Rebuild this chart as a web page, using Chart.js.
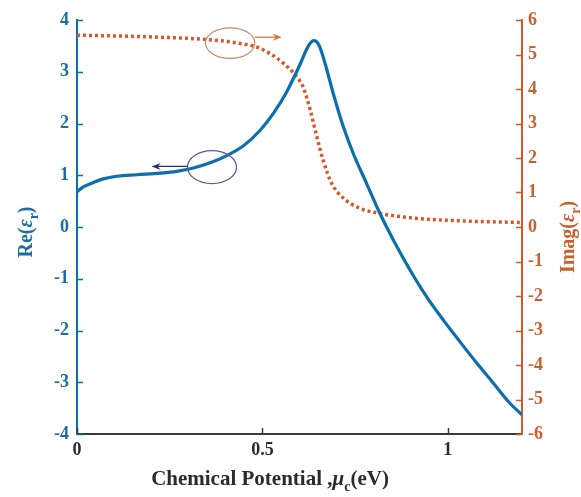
<!DOCTYPE html>
<html>
<head>
<meta charset="utf-8">
<script src="https://cdn.jsdelivr.net/npm/chart.js@4/dist/chart.umd.min.js"></script>
<style>
  html, body { margin: 0; padding: 0; background: #fff; }
  #wrap { width: 581px; height: 497px; }
</style>
</head>
<body>
<div id="wrap"><canvas id="c" width="581" height="497"></canvas></div>
<script>
// Real part of the relative permittivity vs chemical potential (left axis)
const reMu = [0, 0.017, 0.044, 0.071, 0.107, 0.161, 0.224, 0.269, 0.314, 0.359, 0.404, 0.449, 0.494,
  0.53, 0.566, 0.602, 0.624, 0.639, 0.652, 0.669, 0.691, 0.718, 0.745, 0.781, 0.817, 0.853,
  0.898, 0.943, 0.988, 1.033, 1.078, 1.123, 1.168, 1.2];
const reEps = [0.68, 0.775, 0.86, 0.93, 0.98, 1.01, 1.04, 1.075, 1.14, 1.24, 1.38, 1.57, 1.87,
  2.20, 2.62, 3.15, 3.50, 3.60, 3.52, 3.16, 2.58, 1.94, 1.42, 0.84, 0.26, -0.25,
  -0.83, -1.35, -1.80, -2.22, -2.63, -3.02, -3.41, -3.63];

// Imaginary part of the relative permittivity (right axis)
const imMu = [0, 0.134, 0.224, 0.314, 0.386, 0.44, 0.486, 0.52, 0.556, 0.588, 0.61, 0.628, 0.646,
  0.664, 0.687, 0.718, 0.763, 0.808, 0.898, 1.006, 1.2];
const imEps = [5.56, 5.53, 5.50, 5.46, 5.40, 5.32, 5.21, 5.03, 4.75, 4.41, 4.05, 3.43, 2.65,
  1.93, 1.26, 0.84, 0.54, 0.41, 0.27, 0.19, 0.13];

// Tick values
const xTicks = [0, 0.5, 1];
const leftTicks = [-4, -3, -2, -1, 0, 1, 2, 3, 4];
const rightTicks = [-6, -5, -4, -3, -2, -1, 0, 1, 2, 3, 4, 5, 6];

const BLUE = '#0b6fae';
const BLUE_TXT = '#1b6c9f';
const ORANGE = '#d5582a';
const ORANGE_TXT = '#c8602f';
const DARK = '#3a3a3a';
const SERIF = '"Liberation Serif", "Times New Roman", serif';

const toPts = (xs, ys) => xs.map((x, i) => ({ x, y: ys[i] }));

// Inward tick marks, MATLAB style
const tickPlugin = {
  id: 'inwardTicks',
  afterDraw(chart) {
    const { ctx, chartArea: a, scales } = chart;
    ctx.save();
    ctx.lineWidth = 1.5;
    ctx.strokeStyle = BLUE;
    leftTicks.forEach(v => {
      const y = Math.round(scales.yL.getPixelForValue(v)) + 0.5;
      ctx.beginPath(); ctx.moveTo(a.left, y); ctx.lineTo(a.left + 6, y); ctx.stroke();
    });
    ctx.strokeStyle = ORANGE;
    rightTicks.forEach(v => {
      const y = Math.round(scales.yR.getPixelForValue(v)) + 0.5;
      ctx.beginPath(); ctx.moveTo(a.right, y); ctx.lineTo(a.right - 6, y); ctx.stroke();
    });
    ctx.strokeStyle = DARK;
    xTicks.forEach(v => {
      const x = Math.round(scales.x.getPixelForValue(v)) + 0.5;
      ctx.beginPath(); ctx.moveTo(x, a.bottom); ctx.lineTo(x, a.bottom - 6); ctx.stroke();
    });
    ctx.restore();
  }
};

// Ellipse + arrow call-outs pointing each curve to its own axis
const calloutPlugin = {
  id: 'callouts',
  afterDatasetsDraw(chart) {
    const { ctx, scales } = chart;
    const sx = scales.x, sl = scales.yL, sr = scales.yR;
    function ellipse(ys, cx, cy, rx, ry, color) {
      const px = sx.getPixelForValue(cx), py = ys.getPixelForValue(cy);
      const prx = Math.abs(sx.getPixelForValue(cx + rx) - px);
      const pry = Math.abs(ys.getPixelForValue(cy + ry) - py);
      ctx.beginPath();
      ctx.ellipse(px, py, prx, pry, 0, 0, Math.PI * 2);
      ctx.strokeStyle = color; ctx.lineWidth = 1.2; ctx.stroke();
    }
    function arrow(ys, x0, x1, yv, color) {
      const p0 = sx.getPixelForValue(x0), p1 = sx.getPixelForValue(x1), py = ys.getPixelForValue(yv);
      const dir = Math.sign(p1 - p0);
      ctx.strokeStyle = color; ctx.fillStyle = color; ctx.lineWidth = 1.2;
      ctx.beginPath(); ctx.moveTo(p0, py); ctx.lineTo(p1 - dir * 4, py); ctx.stroke();
      ctx.beginPath();
      ctx.moveTo(p1, py);
      ctx.lineTo(p1 - dir * 9, py - 3.5);
      ctx.lineTo(p1 - dir * 6, py);
      ctx.lineTo(p1 - dir * 9, py + 3.5);
      ctx.closePath(); ctx.fill();
    }
    ctx.save();
    ellipse(sl, 0.364, 1.156, 0.066, 0.318, '#5c5c8e');
    arrow(sl, 0.2985, 0.2015, 1.17, '#28287a');
    ellipse(sr, 0.413, 5.33, 0.0666, 0.442, '#c98c68');
    arrow(sr, 0.48, 0.552, 5.50, '#dc6c3c');
    ctx.restore();
  }
};

// Axis titles with subscripts
function drawRich(ctx, parts, x, y, rot, size, color) {
  ctx.save();
  ctx.translate(x, y);
  ctx.rotate(rot);
  ctx.fillStyle = color;
  ctx.textBaseline = 'alphabetic';
  ctx.textAlign = 'left';
  const fontOf = p => `${p.italic ? 'italic ' : ''}bold ${p.sub ? Math.round(size * 0.68) : size}px ${SERIF}`;
  let total = 0;
  parts.forEach(p => { ctx.font = fontOf(p); total += ctx.measureText(p.t).width; });
  let cx = -total / 2;
  parts.forEach(p => {
    ctx.font = fontOf(p);
    ctx.fillText(p.t, cx, p.sub ? size * 0.3 : 0);
    cx += ctx.measureText(p.t).width;
  });
  ctx.restore();
}

const titlePlugin = {
  id: 'axisTitles',
  afterDraw(chart) {
    const { ctx } = chart;
    drawRich(ctx, [
      { t: 'Chemical Potential ,' }, { t: 'μ', italic: true }, { t: 'c', sub: true }, { t: '(eV)' }
    ], 270, 485, 0, 21, '#2b2b2b');
    drawRich(ctx, [
      { t: 'Re(' }, { t: 'ε', italic: true }, { t: 'r', sub: true }, { t: ')' }
    ], 32, 232, -Math.PI / 2, 20, BLUE_TXT);
    drawRich(ctx, [
      { t: 'Imag(' }, { t: 'ε', italic: true }, { t: 'r', sub: true }, { t: ')' }
    ], 574, 237, -Math.PI / 2, 20, ORANGE_TXT);
  }
};

new Chart(document.getElementById('c'), {
  type: 'line',
  data: {
    datasets: [
      {
        label: 'Re',
        data: toPts(reMu, reEps),
        yAxisID: 'yL',
        borderColor: BLUE,
        borderWidth: 3.2,
        pointRadius: 0,
        cubicInterpolationMode: 'monotone',
        fill: false
      },
      {
        label: 'Imag',
        data: toPts(imMu, imEps),
        yAxisID: 'yR',
        borderColor: ORANGE,
        borderWidth: 3.5,
        borderDash: [3, 3],
        borderCapStyle: 'butt',
        pointRadius: 0,
        cubicInterpolationMode: 'monotone',
        fill: false
      }
    ]
  },
  options: {
    responsive: false,
    animation: false,
    devicePixelRatio: 1,
    layout: { padding: { top: 20, left: 0, right: 0, bottom: 0 } },
    plugins: { legend: { display: false }, tooltip: { enabled: false } },
    scales: {
      x: {
        type: 'linear',
        min: 0, max: 1.2,
        afterBuildTicks: s => { s.ticks = xTicks.map(v => ({ value: v })); },
        afterFit: s => { s.height = 63; },
        grid: { display: true, drawOnChartArea: false, drawTicks: false },
        border: { display: true, color: DARK, width: 2 },
        ticks: {
          padding: 6,
          color: '#2b2b2b',
          font: { family: SERIF, size: 18, weight: 'bold' },
          callback: v => String(v)
        }
      },
      yL: {
        type: 'linear',
        position: 'left',
        min: -4, max: 4,
        afterBuildTicks: s => { s.ticks = leftTicks.map(v => ({ value: v })); },
        afterFit: s => { s.width = 77; },
        grid: { display: true, drawOnChartArea: false, drawTicks: false },
        border: { display: true, color: BLUE, width: 2 },
        ticks: {
          padding: 8,
          color: BLUE_TXT,
          font: { family: SERIF, size: 18, weight: 'bold' },
          callback: v => String(v)
        }
      },
      yR: {
        type: 'linear',
        position: 'right',
        min: -6, max: 6,
        afterBuildTicks: s => { s.ticks = rightTicks.map(v => ({ value: v })); },
        afterFit: s => { s.width = 59; },
        grid: { display: true, drawOnChartArea: false, drawTicks: false },
        border: { display: true, color: ORANGE, width: 2 },
        ticks: {
          padding: 6,
          color: ORANGE_TXT,
          font: { family: SERIF, size: 18, weight: 'bold' },
          callback: v => String(v)
        }
      }
    }
  },
  plugins: [tickPlugin, calloutPlugin, titlePlugin]
});
</script>
</body>
</html>
